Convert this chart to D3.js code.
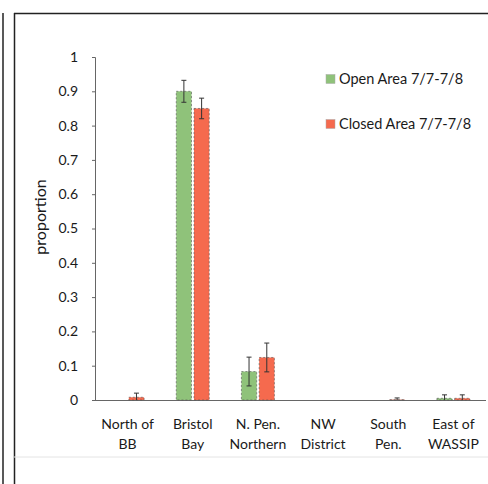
<!DOCTYPE html>
<html><head><meta charset="utf-8">
<script src="https://cdn.jsdelivr.net/npm/d3@7"></script>
<style>body{margin:0;background:#fff}svg{display:block}text{font-family:Lato,"Open Sans",sans-serif;fill:#1a1a1a}</style>
</head><body><svg id="c" width="488" height="484"></svg>
<script>
const categories = [["North of","BB"],["Bristol","Bay"],["N. Pen.","Northern"],["NW","District"],["South","Pen."],["East of","WASSIP"]];
const seriesNames = ["Open Area 7/7-7/8","Closed Area 7/7-7/8"];
const openValues = [0, 0.90, 0.083, 0, 0, 0.005];
const openErrors = [0, 0.032, 0.042, 0, 0, 0.01];
const closedValues = [0.008, 0.85, 0.124, 0, 0.001, 0.005];
const closedErrors = [0.012, 0.03, 0.042, 0, 0.005, 0.01];
const yTicks = [0,0.1,0.2,0.3,0.4,0.5,0.6,0.7,0.8,0.9,1];
const colors = ["#8fc27a","#f56a4e"];

const svg = d3.select("#c");
// frame lines
svg.append("line").attr("x1",3).attr("x2",3).attr("y1",13).attr("y2",484).attr("stroke","#222").attr("stroke-width",1.5);
svg.append("line").attr("x1",14.5).attr("x2",14.5).attr("y1",13).attr("y2",484).attr("stroke","#222").attr("stroke-width",1.5);
svg.append("line").attr("x1",14).attr("x2",488).attr("y1",13.5).attr("y2",13.5).attr("stroke","#222").attr("stroke-width",1.5);
svg.append("line").attr("x1",14).attr("x2",488).attr("y1",457).attr("y2",457).attr("stroke","#e4e4e4").attr("stroke-width",1);

const m = {l:95, r:486, t:57, b:400};
const y = d3.scaleLinear().domain([0,1]).range([m.b,m.t]);
const x0 = d3.scaleBand().domain(d3.range(categories.length)).range([m.l,m.r]);
const x1 = d3.scaleBand().domain([0,1]).range([0,33]).paddingInner(0.14);

const yAxis = svg.append("g").attr("transform",`translate(${m.l},0)`)
  .call(d3.axisLeft(y).tickValues(yTicks).tickFormat(d=>d===0?"0":d===1?"1":d3.format(".1f")(d)).tickSize(3).tickPadding(14));
yAxis.select(".domain").attr("stroke","#666");
yAxis.selectAll(".tick line").attr("stroke","#666");
yAxis.selectAll("text").attr("font-size",14).style("font-family","Lato,sans-serif").attr("fill","#1a1a1a");

svg.append("text").attr("transform","translate(46,217) rotate(-90)").attr("text-anchor","middle")
  .attr("font-size",16).text("proportion");

// x axis
svg.append("line").attr("x1",m.l).attr("x2",m.r).attr("y1",y(0)+0.5).attr("y2",y(0)+0.5).attr("stroke","#666");

const series = [
  {vals:openValues, errs:openErrors},
  {vals:closedValues, errs:closedErrors}
];
series.forEach((s,si)=>{
  const g = svg.append("g");
  categories.forEach((c,i)=>{
    const bx = x0(i) + (x0.bandwidth()-33)/2 + x1(si);
    const v = s.vals[i], e = s.errs[i];
    const bw = x1.bandwidth();
    if (v>0){
      g.append("rect").attr("x",bx).attr("y",y(v)).attr("width",bw).attr("height",y(0)-y(v))
        .attr("fill",colors[si]).attr("stroke","#555").attr("stroke-width",0.6).attr("stroke-dasharray","2,2");
    }
    if (e>0){
      const cx = bx + bw/2;
      const lo = Math.max(0, v-e);
      g.append("line").attr("x1",cx).attr("x2",cx).attr("y1",y(v+e)).attr("y2",y(lo)).attr("stroke","#333").attr("stroke-width",1);
      g.append("line").attr("x1",cx-2.5).attr("x2",cx+2.5).attr("y1",y(v+e)).attr("y2",y(v+e)).attr("stroke","#333").attr("stroke-width",1);
      if (v-e>0) g.append("line").attr("x1",cx-2.5).attr("x2",cx+2.5).attr("y1",y(v-e)).attr("y2",y(v-e)).attr("stroke","#333").attr("stroke-width",1);
    }
  });
});

// x labels
categories.forEach((c,i)=>{
  const cx = x0(i)+x0.bandwidth()/2;
  const t = svg.append("text").attr("text-anchor","middle").attr("font-size",14);
  t.append("tspan").attr("x",cx).attr("y",429).text(c[0]);
  t.append("tspan").attr("x",cx).attr("y",449).text(c[1]);
});

// legend
seriesNames.forEach((n,i)=>{
  const ly = 79 + i*45;
  svg.append("rect").attr("x",326).attr("y",ly-4.5).attr("width",9).attr("height",9).attr("fill",colors[i]).attr("stroke","#aaa").attr("stroke-width",0.5);
  svg.append("text").attr("x",339).attr("y",ly+5).attr("font-size",14.5).text(n);
});
</script></body></html>
